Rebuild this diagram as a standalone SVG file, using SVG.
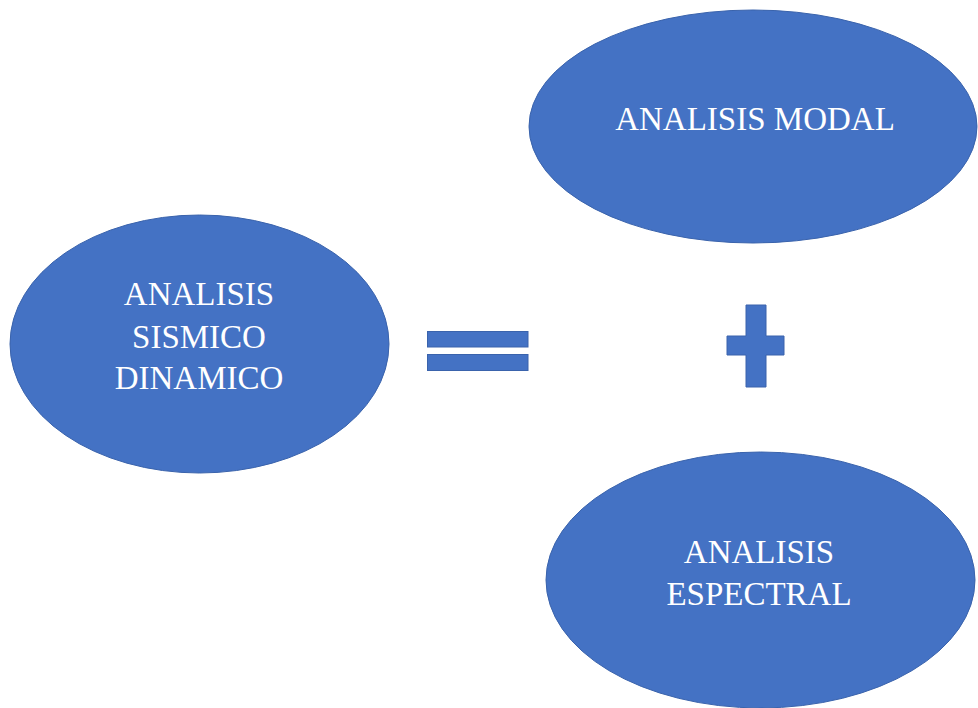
<svg xmlns="http://www.w3.org/2000/svg" width="978" height="708" viewBox="0 0 978 708">
<style>
.shape{fill:#4472C4;stroke:#3A63AC;stroke-width:1}
.lbl{font-family:"Liberation Serif","Times New Roman",serif;font-size:33px;fill:#FFFFFF;text-anchor:middle}
</style>
<rect width="978" height="708" fill="#FFFFFF"/>
<g id="node-sismico">
<ellipse class="shape" cx="199.5" cy="344" rx="189.5" ry="129"/>
<text class="lbl" x="199" y="305">ANALISIS</text>
<text class="lbl" x="199" y="348">SISMICO</text>
<text class="lbl" x="199" y="389">DINAMICO</text>
</g>
<g id="node-modal">
<ellipse class="shape" cx="753" cy="126.5" rx="224" ry="116.5"/>
<text class="lbl" x="755" y="130">ANALISIS MODAL</text>
</g>
<g id="node-espectral">
<ellipse class="shape" cx="760.5" cy="580" rx="214.5" ry="128"/>
<text class="lbl" x="759" y="563">ANALISIS</text>
<text class="lbl" x="759" y="605">ESPECTRAL</text>
</g>
<g id="connectors">
<g id="equals">
<rect class="shape" x="427.5" y="331.5" width="100.5" height="15.5"/>
<rect class="shape" x="427.5" y="354.5" width="100.5" height="16"/>
</g>
<g id="plus">
<path class="shape" d="M746 305H766V336H784V355H766V387H746V355H727V336H746Z"/>
</g>
</g>
</svg>
